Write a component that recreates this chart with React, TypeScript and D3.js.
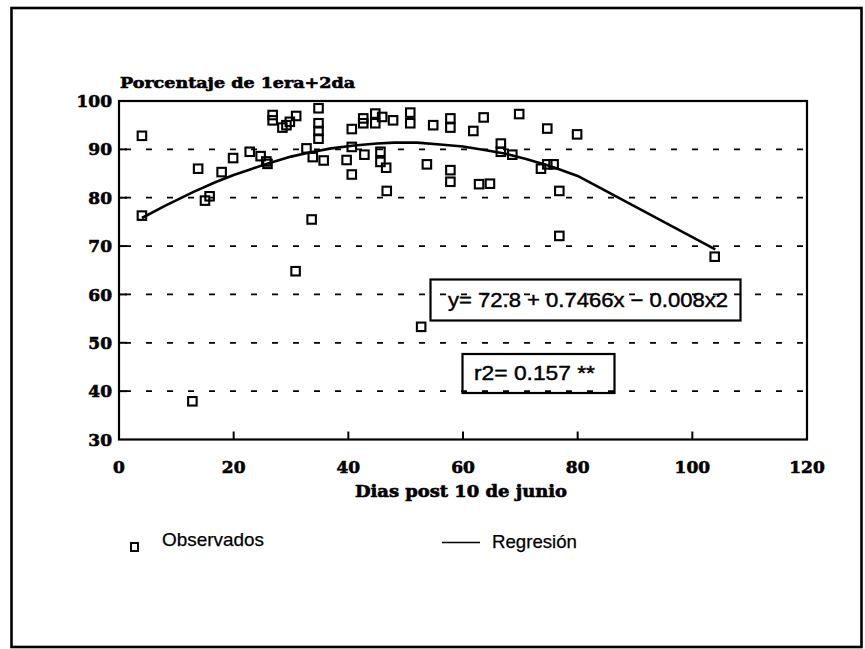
import React from "react";
import * as d3 from "d3";

// Observed data: days after June 10 vs percentage of 1st+2nd grade
const obsX: number[] = [
  4, 4, 12.8, 13.8, 15, 15.8, 17.9, 19.9, 22.8, 24.7, 25.7, 25.9, 26.8, 26.8, 28.5, 29.2, 29.8, 30.9, 30.8,
  32.7, 33.8, 33.6, 34.8, 34.8, 34.8, 34.8, 35.7, 39.7, 40.6, 40.6, 40.6, 42.6, 42.6, 42.8, 44.7, 44.7,
  45.9, 45.6, 45.6, 46.6, 46.7, 47.8, 50.8, 50.8, 52.7, 53.7, 54.8, 57.8, 57.8, 57.8, 57.8, 61.8, 62.8,
  63.6, 64.7, 66.6, 66.6, 68.6, 69.8, 73.6, 74.7, 74.7, 75.8, 76.8, 76.8, 79.9, 103.9,
];
const obsY: number[] = [
  92.8, 76.3, 37.9, 86.0, 79.4, 80.3, 85.3, 88.2, 89.5, 88.6, 87.5, 87.0, 97.1, 96.0, 94.5, 95.0, 95.7, 96.9, 64.8,
  90.2, 88.4, 75.5, 98.5, 95.4, 93.8, 92.2, 87.7, 87.8, 94.2, 90.5, 84.8, 96.4, 95.4, 88.9, 97.4, 95.4,
  96.7, 89.5, 87.4, 86.2, 81.4, 96.0, 97.6, 95.4, 53.3, 86.9, 95.0, 96.4, 94.5, 85.7, 83.3, 93.8, 82.8,
  96.6, 82.9, 91.2, 89.5, 88.9, 97.3, 86.0, 94.3, 86.9, 86.9, 81.4, 72.1, 93.1, 67.8,
];

// Regression line as drawn
const regX: number[] = [4, 8, 13, 17, 20, 23, 26, 30, 33, 37, 41, 45, 48, 52, 56, 60, 64, 67, 71, 75, 77, 80, 104];
const regY: number[] = [75.8, 78.3, 81.2, 83.3, 84.7, 85.9, 87.1, 88.5, 89.3, 90.2, 90.8, 91.2, 91.4, 91.4, 91.0, 90.6, 89.8, 89.2, 88.0, 86.6, 85.8, 84.5, 69.3];

const xTicks: number[] = [0, 20, 40, 60, 80, 100, 120];
const yTicks: number[] = [30, 40, 50, 60, 70, 80, 90, 100];
const gridValues: number[] = [40, 50, 60, 70, 80, 90];

const yTitle = "Porcentaje de 1era+2da";
const xTitle = "Dias post 10 de junio";
const eqText = "y= 72.8 + 0.7466x − 0.008x2";
const r2Text = "r2= 0.157 **";
const legendObs = "Observados";
const legendReg = "Regresión";

const W = 865;
const H = 649;
const left = 119;
const right = 807;
const top = 101;
const bottom = 439.5;

export default function App() {
  const x = d3.scaleLinear().domain([0, 120]).range([left, right]);
  const y = d3.scaleLinear().domain([30, 100]).range([bottom, top]);

  const pts = regX.map((v, i) => [v, regY[i]] as [number, number]);
  const line = d3
    .line<[number, number]>()
    .x((d) => x(d[0]))
    .y((d) => y(d[1]))
    .curve(d3.curveLinear)(pts);

  const serif = "'DejaVu Serif', serif";
  const sans = "'Liberation Sans', Arial, sans-serif";
  const sq = 8.5;
  const serifStroke = { stroke: "#000", strokeWidth: 0.6 };
  const sansStroke = { stroke: "#000", strokeWidth: 0.45 };

  return (
    <svg
      width={W}
      height={H}
      viewBox={`0 0 ${W} ${H}`}
      style={{ position: "absolute", left: 0, top: 0, background: "#fff" }}
    >
      <rect x={0} y={0} width={W} height={H} fill="#fff" />
      {/* outer frame */}
      <rect x={11.5} y={8} width={850} height={639} fill="none" stroke="#000" strokeWidth={2.6} />

      {/* gridlines */}
      {gridValues.map((g) => (
        <line
          key={"g" + g}
          x1={left + 6}
          x2={right}
          y1={y(g)}
          y2={y(g)}
          stroke="#000"
          strokeWidth={1.7}
          strokeDasharray="6,15"
        />
      ))}

      {/* regression line */}
      <path d={line || ""} fill="none" stroke="#000" strokeWidth={2.6} strokeLinejoin="round" />

      {/* observed points */}
      {obsX.map((v, i) => (
        <rect
          key={"p" + i}
          x={x(v) - sq / 2}
          y={y(obsY[i]) - sq / 2}
          width={sq}
          height={sq}
          fill="none"
          stroke="#000"
          strokeWidth={2.1}
        />
      ))}

      {/* plot frame */}
      <rect x={left} y={top} width={right - left} height={bottom - top} fill="none" stroke="#000" strokeWidth={2.2} />

      {/* y ticks */}
      {yTicks.map((t) => (
        <g key={"yt" + t}>
          {t > 30 && t < 100 && <line x1={left} x2={left + 8} y1={y(t)} y2={y(t)} stroke="#000" strokeWidth={2} />}
          <text
            x={112}
            y={y(t)}
            dy="0.36em"
            textAnchor="end"
            fontFamily={serif}
            fontWeight="bold"
            fontSize={17}
            fill="#000"
            {...serifStroke}
          >
            {t}
          </text>
        </g>
      ))}

      {/* x ticks */}
      {xTicks.map((t) => (
        <g key={"xt" + t}>
          {t > 0 && t < 120 && <line x1={x(t)} x2={x(t)} y1={bottom} y2={bottom - 8} stroke="#000" strokeWidth={2} />}
          <text
            x={x(t)}
            y={473}
            textAnchor="middle"
            fontFamily={serif}
            fontWeight="bold"
            fontSize={17}
            fill="#000"
            {...serifStroke}
          >
            {t}
          </text>
        </g>
      ))}

      {/* titles */}
      <text
        x={120}
        y={88}
        fontFamily={serif}
        fontWeight="bold"
        fontSize={15.5}
        textLength={235}
        lengthAdjust="spacingAndGlyphs"
        fill="#000"
        {...serifStroke}
      >
        {yTitle}
      </text>
      <text
        x={355}
        y={497}
        fontFamily={serif}
        fontWeight="bold"
        fontSize={16}
        textLength={212}
        lengthAdjust="spacingAndGlyphs"
        fill="#000"
        {...serifStroke}
      >
        {xTitle}
      </text>

      {/* equation box */}
      <rect x={430.5} y={279.5} width={310} height={41} fill="none" stroke="#000" strokeWidth={2.2} />
      <text
        x={448}
        y={307}
        fontFamily={sans}
        fontSize={21}
        textLength={280}
        lengthAdjust="spacingAndGlyphs"
        fill="#000"
        {...sansStroke}
      >
        {eqText}
      </text>

      {/* r2 box */}
      <rect x={462.5} y={354} width={152} height={39} fill="none" stroke="#000" strokeWidth={2.2} />
      <text
        x={474}
        y={380}
        fontFamily={sans}
        fontSize={21}
        textLength={121}
        lengthAdjust="spacingAndGlyphs"
        fill="#000"
        {...sansStroke}
      >
        {r2Text}
      </text>

      {/* legend */}
      <rect x={131} y={543} width={7} height={8} fill="none" stroke="#000" strokeWidth={1.9} />
      <text x={162} y={545.5} fontFamily={sans} fontSize={19} textLength={102} lengthAdjust="spacingAndGlyphs" fill="#000" stroke="#000" strokeWidth={0.25}>
        {legendObs}
      </text>
      <line x1={442} x2={480} y1={542.5} y2={542.5} stroke="#000" strokeWidth={1.6} />
      <text x={492} y={547.5} fontFamily={sans} fontSize={19} textLength={85} lengthAdjust="spacingAndGlyphs" fill="#000" stroke="#000" strokeWidth={0.25}>
        {legendReg}
      </text>
    </svg>
  );
}
